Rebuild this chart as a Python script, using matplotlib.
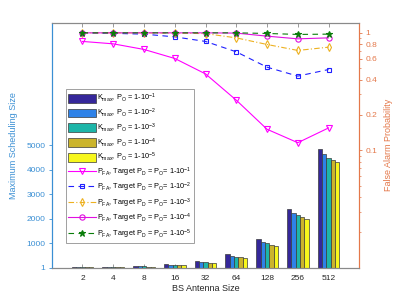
import matplotlib
matplotlib.use("Agg")
import matplotlib.pyplot as plt
import matplotlib.ticker as mticker
from matplotlib.patches import Patch
from matplotlib.lines import Line2D
import numpy as np

plt.rcParams['font.family'] = ['Liberation Sans', 'DejaVu Sans']
plt.rcParams['mathtext.default'] = 'regular'

antennas = ['2', '4', '8', '16', '32', '64', '128', '256', '512']

# maximum scheduling size, one list per P_O
kmax_1 = [17, 33, 66, 138, 275, 570, 1184, 2400, 4860]
kmax_2 = [14, 28, 57, 118, 240, 495, 1065, 2245, 4650]
kmax_3 = [13, 26, 52, 108, 215, 455, 990, 2135, 4480]
kmax_4 = [12, 24, 48, 100, 200, 425, 940, 2055, 4380]
kmax_5 = [11, 22, 45, 94, 185, 400, 885, 1990, 4300]

# false alarm probability
pfa_1 = [0.845, 0.806, 0.722, 0.605, 0.447, 0.267, 0.151, 0.116, 0.155]
pfa_2 = [1.0, 0.99, 0.975, 0.924, 0.845, 0.689, 0.51, 0.428, 0.487]
pfa_3 = [1.0, 1.0, 1.0, 0.995, 0.985, 0.906, 0.796, 0.708, 0.755]
pfa_4 = [1.0, 1.0, 1.0, 1.0, 1.0, 0.995, 0.937, 0.889, 0.906]
pfa_5 = [1.0, 1.0, 1.0, 1.0, 1.0, 1.0, 0.988, 0.969, 0.975]

kmax_labels = [r'K$_{max}$, P$_O$ = 1-10$^{-%d}$' % i for i in range(1, 6)]
pfa_labels = [r'P$_{FA}$, Target P$_D$ = P$_O$= 1-10$^{-%d}$' % i for i in range(1, 6)]

bar_colors = ['#35279A', '#2E82E8', '#1DB5A8', '#CBB42C', '#F7F71C']
blue_ax = '#3A8FD4'
orange_ax = '#E4784A'
grey_ax = '#8A8A8A'

fig = plt.figure(figsize=(3.98, 3.01), dpi=100)
ax1 = fig.add_axes([0.13, 0.1106, 0.7728, 0.814])
ax2 = ax1.twinx()

x = np.arange(1, len(antennas) + 1)
w = 0.141
kmax = [kmax_1, kmax_2, kmax_3, kmax_4, kmax_5]
handles = []
for i, vals in enumerate(kmax):
    ax1.bar(x + (i - 2) * w, vals, w, bottom=0, color=bar_colors[i],
            edgecolor='#3a3a3a', lw=0.5, zorder=2)
    handles.append(Patch(facecolor=bar_colors[i], edgecolor='#3a3a3a', lw=0.5,
                         label=kmax_labels[i]))

ax1.set_xlim(0, 10)
ax1.set_ylim(1, 10000)
ax1.set_yticks([1, 1000, 2000, 3000, 4000, 5000])
ax1.set_yticklabels(['1', '1000', '2000', '3000', '4000', '5000'])
ax1.set_xticks(x)
ax1.set_xticklabels(antennas)
ax1.set_xlabel('BS Antenna Size', fontsize=6.5, color='#262626', labelpad=2)
ax1.set_ylabel('Maximum Scheduling Size', fontsize=6.5, color=blue_ax, labelpad=6)
ax1.tick_params(axis='x', direction='in', top=True, length=3, width=0.6,
                color=grey_ax, labelsize=6, labelcolor='#262626', pad=5)
ax1.tick_params(axis='y', direction='out', length=2.5, width=0.6,
                color=blue_ax, labelcolor=blue_ax, labelsize=6, pad=2)

styles = [
    dict(color='#FF00FF', ls='-', marker='v', ms=4.2, mfc='none'),
    dict(color='#2020FF', ls=(0, (5, 4)), marker='s', ms=3.3, mfc='none'),
    dict(color='#EDB120', ls=(0, (5, 2, 1, 2)), marker='d', ms=3.8, mfc='none'),
    dict(color='#E010E0', ls='-', marker='o', ms=3.8, mfc='none'),
    dict(color='#0A7D0A', ls=(0, (5, 4)), marker='*', ms=4.5),
]
pfa = [pfa_1, pfa_2, pfa_3, pfa_4, pfa_5]
for i, vals in enumerate(pfa):
    st = styles[i]
    ax2.plot(x, vals, lw=0.8, mew=0.8, zorder=3, **st)
    handles.append(Line2D([], [], lw=0.8, mew=0.8, label=pfa_labels[i], **st))

ax2.set_yscale('log')
ax2.set_ylim(0.01, 1.22)
ax2.set_yticks([0.1, 0.2, 0.4, 0.6, 0.8, 1])
ax2.yaxis.set_major_formatter(mticker.FixedFormatter(['0.1', '0.2', '0.4', '0.6', '0.8', '1']))
ax2.yaxis.set_minor_locator(mticker.LogLocator(base=10, subs=np.arange(2, 10) * 1.0))
ax2.yaxis.set_minor_formatter(mticker.NullFormatter())
ax2.tick_params(axis='y', which='major', direction='out', length=2.5, width=0.6,
                color=orange_ax, labelcolor=orange_ax, labelsize=6, pad=2)
ax2.tick_params(axis='y', which='minor', direction='out', length=1.5, width=0.5,
                color=orange_ax)
ax2.set_ylabel('False Alarm Probability', fontsize=6.5, color=orange_ax, labelpad=5)

for ax in (ax1, ax2):
    ax.spines['top'].set_color(grey_ax)
    ax.spines['bottom'].set_color(grey_ax)
    ax.spines['left'].set_color(blue_ax)
    ax.spines['right'].set_color(orange_ax)
    for s in ax.spines.values():
        s.set_linewidth(0.8)

leg = ax2.legend(handles=handles, loc='upper left', bbox_to_anchor=(0.0455, 0.728),
                 fontsize=5.3, handlelength=3.7, handleheight=1.5, labelspacing=0.3,
                 handletextpad=0.2, borderpad=0.35, borderaxespad=0, fancybox=False,
                 framealpha=1)
leg.get_frame().set_edgecolor('#909090')
leg.get_frame().set_linewidth(0.6)
leg.set_zorder(10)

fig.savefig('out.png', dpi=100)
